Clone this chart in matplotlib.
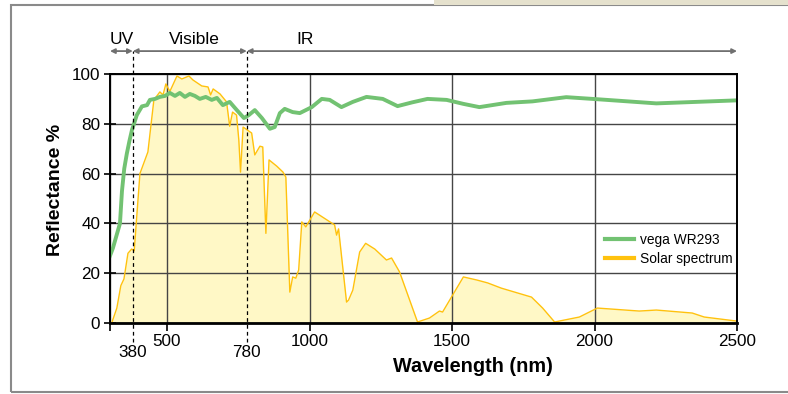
import numpy as np
import matplotlib.pyplot as plt
from matplotlib.patches import Rectangle

plt.rcParams['font.family'] = ['Liberation Sans', 'DejaVu Sans']

# vega WR293 reflectance (%)
vega_nm = [300, 310, 320, 335, 342, 350, 359, 368, 377, 394, 412, 430, 440, 458,
           475, 493, 510, 528, 545, 563, 580, 598, 615, 636, 657, 675, 696, 720,
           745, 770, 787, 808, 833, 861, 878, 896, 913, 941, 966, 1008, 1043,
           1071, 1112, 1152, 1200, 1257, 1309, 1360, 1414, 1481, 1540, 1596,
           1691, 1782, 1901, 2006, 2217, 2497]
vega_r = [27, 30, 34, 40, 53, 62, 68, 73, 77.5, 83.5, 87, 87.5, 89.6, 90,
          90.8, 91.2, 92.4, 91.2, 92.4, 90.8, 92, 91.2, 90, 90.8, 89.6, 90.4, 87.5, 88.8,
          85.5, 82.3, 83.5, 85.5, 82.3, 78, 78.7, 84.3, 86, 84.7, 84.3, 86.7, 90,
          89.6, 86.7, 88.8, 90.8, 90, 87.1, 88.6, 90, 89.6, 88, 86.7,
          88.4, 89, 90.7, 89.9, 88.2, 89.4]

# solar spectrum (relative, %)
sun_nm = [306, 324, 338, 349, 363, 376, 385, 405, 433, 443, 454, 475, 486, 496,
          510, 535, 552, 577, 591, 622, 644, 653, 662, 686, 709, 720, 730, 744,
          752, 758, 767, 797, 808, 826, 836, 847, 858, 885, 907, 917, 931, 941,
          952, 962, 973, 987, 1018, 1088, 1095, 1102, 1130, 1137, 1152, 1176,
          1197, 1229, 1270, 1288, 1316, 1379, 1421, 1456, 1467, 1540, 1586,
          1625, 1673, 1779, 1818, 1860, 1947, 2010, 2157, 2217, 2343, 2385, 2497]
sun_r = [0, 6, 15, 17.7, 28, 29.7, 29, 60, 68.7, 78.7, 89.6, 92.8, 91.6, 96,
         93, 99.2, 98, 99.2, 97.6, 95.2, 94.8, 91.6, 94, 92, 88.8, 79, 84.7, 83.5,
         73.5, 60.6, 78.7, 76.3, 67.5, 71, 70.7, 36, 65.5, 63, 60.6, 58.6, 12.4, 18.5,
         18, 21.3, 40.6, 38.6, 44.6, 39.4, 35.3, 37.8, 8.4, 9.2, 13.2, 28.5,
         32, 29.7, 25.3, 26.1, 20.5, 0.4, 2, 4.8, 4.4, 18.5, 17.3,
         16.1, 14, 10.4, 6, 0.4, 2.4, 6, 4.8, 5.2, 4, 2.4, 0.8]

regions = ['UV', 'Visible', 'IR']
bounds = [300, 380, 780, 2500]
region_text_x = [342, 597, 983]

fig = plt.figure(figsize=(7.88, 3.94), dpi=100)

# frame and the little beige band on top
fig.patches.append(Rectangle((11/788, 2/394), 1.0, 387/394, transform=fig.transFigure,
                             fill=False, edgecolor='#8a8a8a', lw=1.5))
fig.patches.append(Rectangle((434/788, 389/394), 1.0, 5/394, transform=fig.transFigure,
                             facecolor='#e5e1cd', edgecolor='none'))

ax = fig.add_axes([110/788, 1 - 323/394, 627/788, 249/394])

ax.fill_between(sun_nm, sun_r, color='#fff8c6', lw=0, zorder=1)
ax.plot(sun_nm, sun_r, color='#ffc20e', lw=1, zorder=3, label='Solar spectrum')
ax.plot(vega_nm, vega_r, color='#72c272', lw=2.8, zorder=4, label='vega WR293',
        solid_joinstyle='round')

ax.set_xlim(300, 2500)
ax.set_ylim(0, 100)
ax.set_xticks([300, 500, 1000, 1500, 2000, 2500])
ax.set_xticklabels(['', '500', '1000', '1500', '2000', '2500'])
ax.set_yticks([0, 20, 40, 60, 80, 100])
ax.tick_params(axis='both', labelsize=12.3, colors='black', width=1.2)
ax.tick_params(axis='y', direction='inout', length=8, pad=3)
ax.tick_params(axis='x', direction='out', length=6, pad=2)
ax.grid(True, color='#454545', lw=1, zorder=2)
ax.set_axisbelow(False)
for s in ax.spines.values():
    s.set_linewidth(1.4)
    s.set_zorder(5)
ax.spines['bottom'].set_linewidth(2)

ax.set_ylabel('Reflectance %', fontsize=14, fontweight='bold', labelpad=5)
ax.set_xlabel('Wavelength (nm)', fontsize=14.3, fontweight='bold', labelpad=6)
ax.xaxis.set_label_coords(0.579, -0.135)
ax.xaxis.label.set_va('top')
ax.yaxis.set_label_coords(-0.073, 0.534)

# region boundaries 380 / 780
for b in bounds[1:3]:
    ax.plot([b, b], [-0.076, 1.092], transform=ax.get_xaxis_transform(), clip_on=False,
            color='black', lw=0.9, ls=(0, (3, 2.5)), zorder=6)
    ax.text(b, -0.088, str(b), transform=ax.get_xaxis_transform(), ha='center',
            va='top', fontsize=12.3)

# region arrows and names
for i, name in enumerate(regions):
    x0, x1 = bounds[i], bounds[i + 1]
    ax.annotate('', xy=(x0, 1.092), xytext=(x1, 1.092), xycoords=ax.get_xaxis_transform(),
                arrowprops=dict(arrowstyle='<|-|>', color='#707070', lw=1.3,
                                mutation_scale=7, shrinkA=0, shrinkB=0), annotation_clip=False)
    ax.text(region_text_x[i], 1.12, name, transform=ax.get_xaxis_transform(), ha='center',
            va='baseline', fontsize=12.5)

h, l = ax.get_legend_handles_labels()
leg = ax.legend(h[::-1], l[::-1], loc='center left', bbox_to_anchor=(0.79, 0.295),
                frameon=False, fontsize=9.9, handlelength=2.1, labelspacing=0.38,
                handletextpad=0.45, borderpad=0, borderaxespad=0)
for line in leg.get_lines():
    line.set_linewidth(3)

fig.savefig('out.png', dpi=100)
